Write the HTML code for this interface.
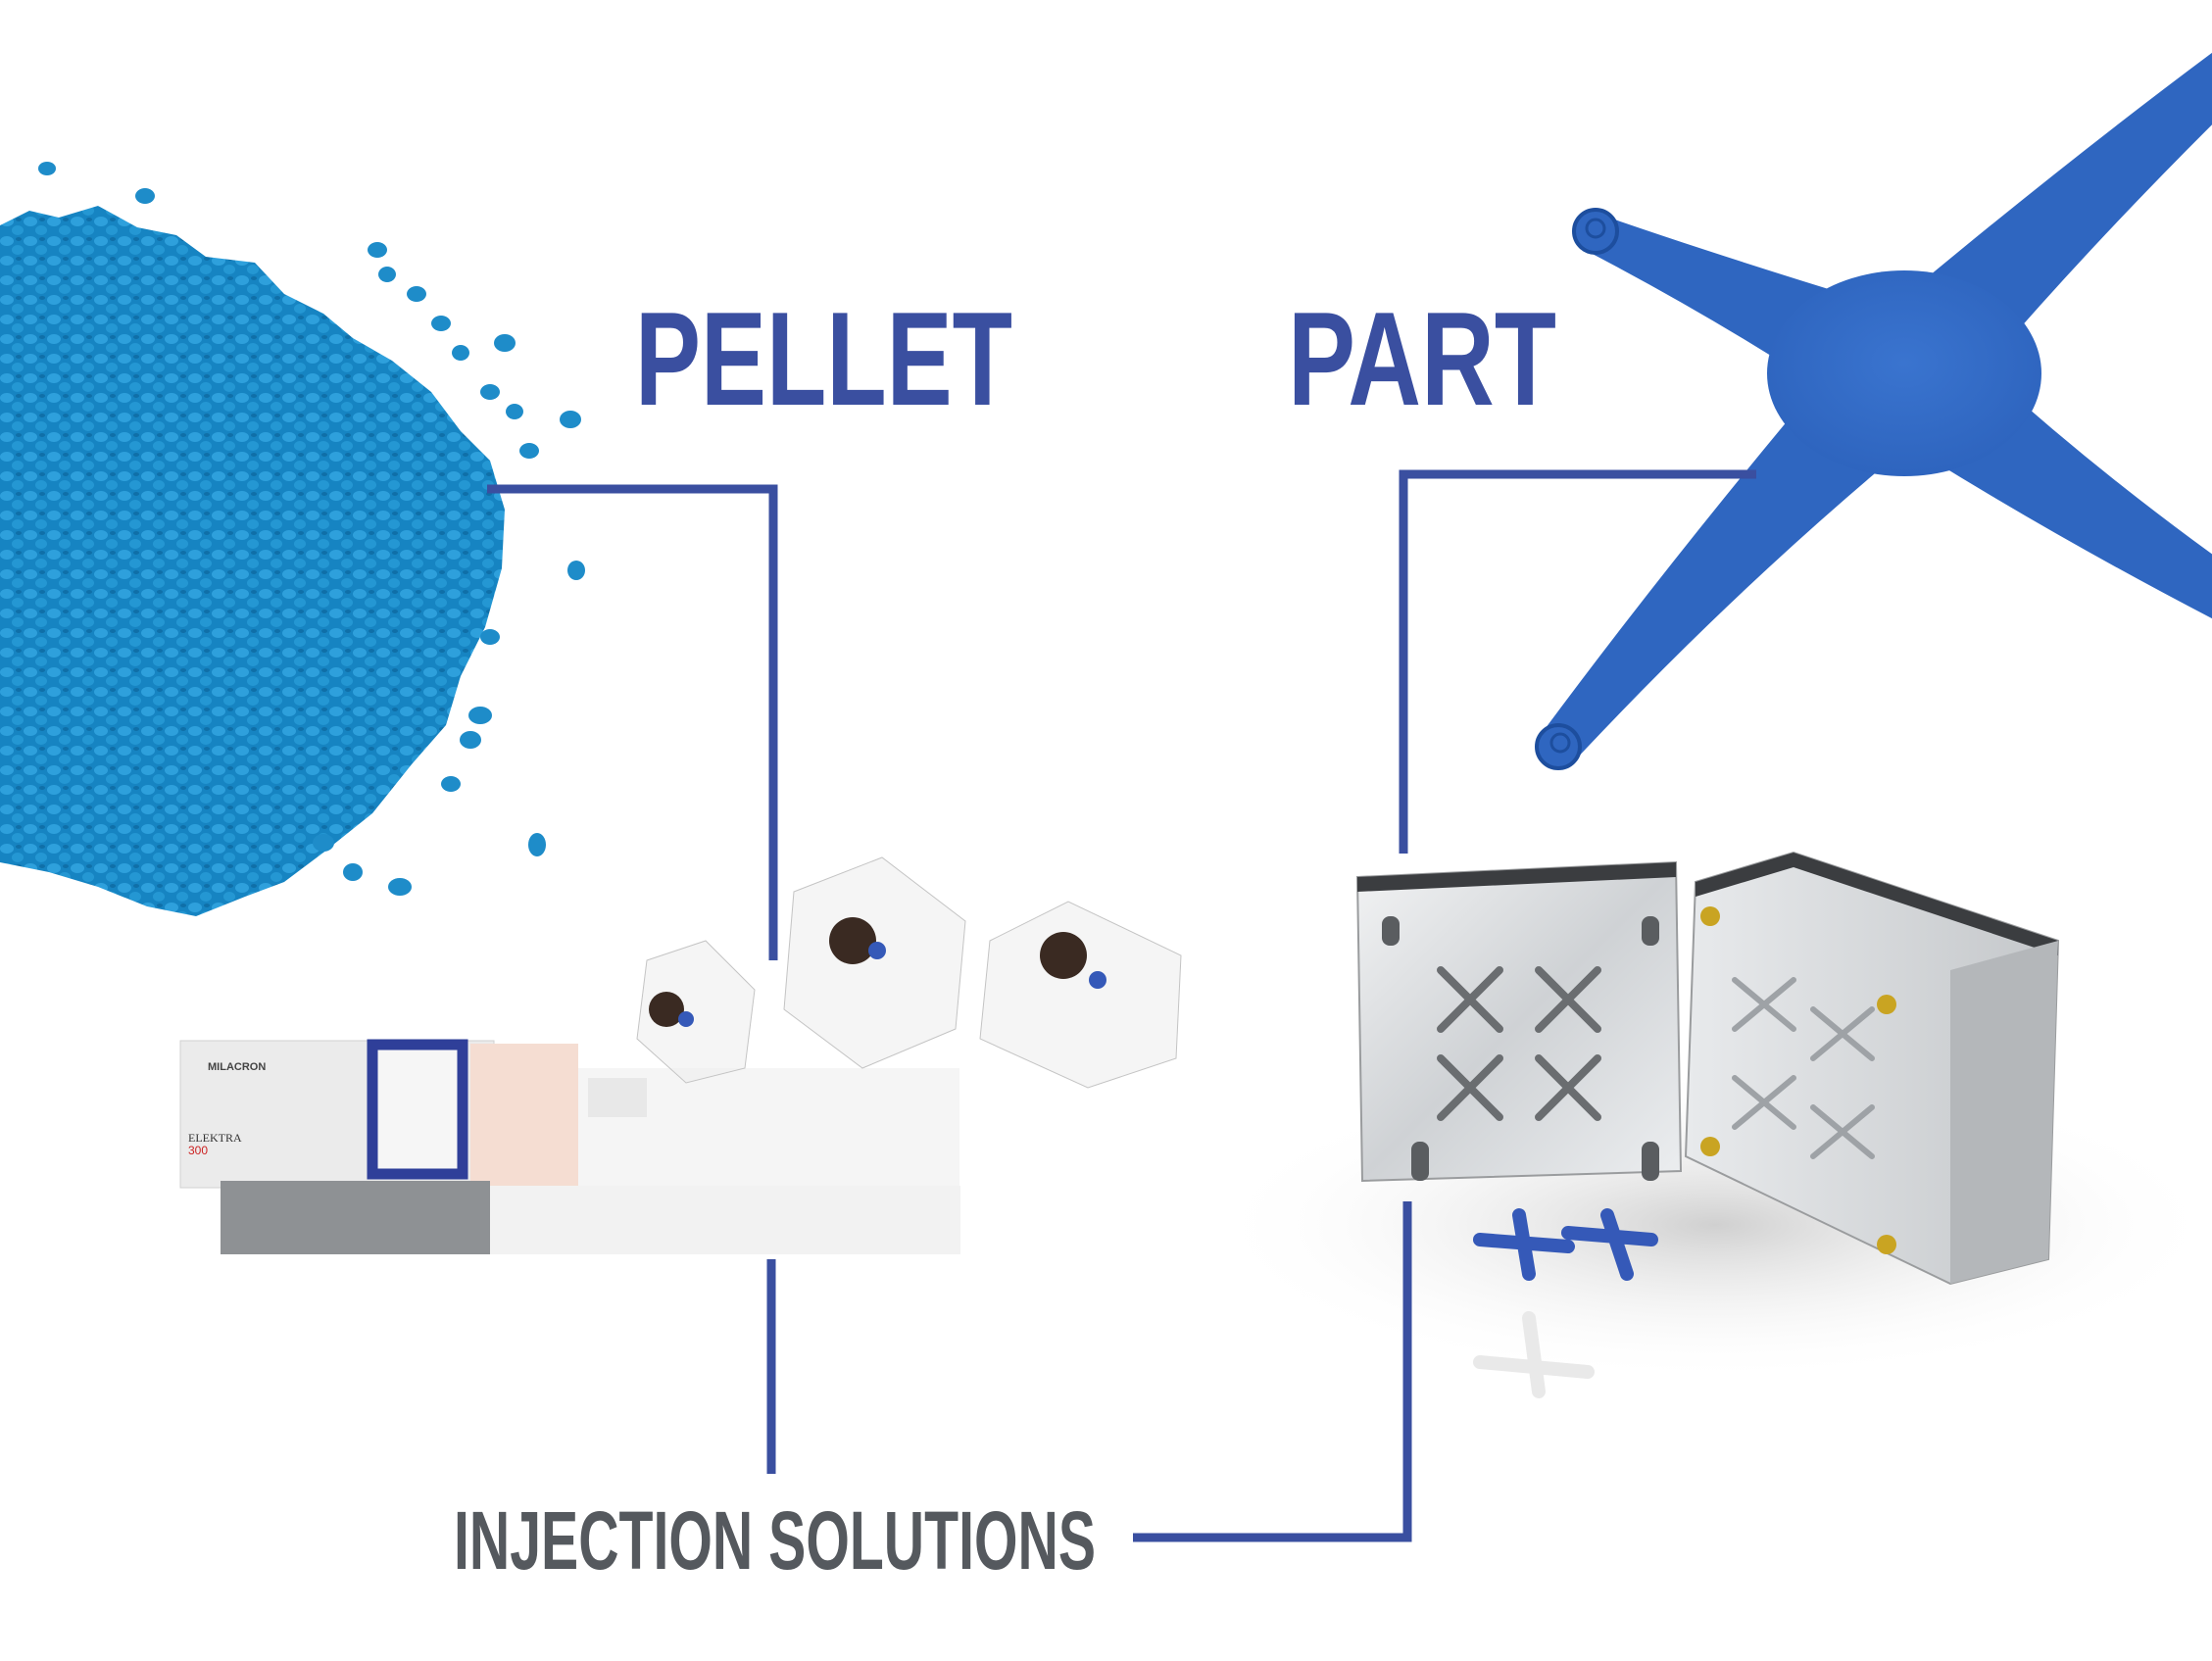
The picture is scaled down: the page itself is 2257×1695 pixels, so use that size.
<!DOCTYPE html>
<html><head><meta charset="utf-8"><style>
html,body{margin:0;padding:0;background:#fff;}
svg{display:block;}
</style></head><body>
<svg width="2257" height="1695" viewBox="0 0 2257 1695" xmlns="http://www.w3.org/2000/svg">
<rect width="2257" height="1695" fill="#fff"/>
<defs>
<pattern id="pel" width="24" height="20" patternUnits="userSpaceOnUse">
<rect width="24" height="20" fill="#1684c2"/>
<ellipse cx="7" cy="6" rx="7" ry="5" fill="#2ea0dc"/>
<ellipse cx="18" cy="15" rx="6" ry="5" fill="#2497d3"/>
<ellipse cx="19" cy="4" rx="3" ry="2" fill="#0f6fa8"/>
</pattern>
<radialGradient id="sh" cx="0.5" cy="0.5" r="0.5"><stop offset="0" stop-color="#d0d0d0"/><stop offset="1" stop-color="#fff" stop-opacity="0"/></radialGradient>
<linearGradient id="m1" x1="0" y1="0" x2="1" y2="1"><stop offset="0" stop-color="#f2f3f4"/><stop offset="0.5" stop-color="#cfd2d5"/><stop offset="1" stop-color="#eceef0"/></linearGradient>
<linearGradient id="m2" x1="0" y1="0" x2="1" y2="0"><stop offset="0" stop-color="#e8eaec"/><stop offset="1" stop-color="#c4c7ca"/></linearGradient>
<radialGradient id="xb" cx="0.5" cy="0.45" r="0.6"><stop offset="0" stop-color="#3a74cf"/><stop offset="1" stop-color="#2d63bd"/></radialGradient>
</defs>
<!-- pellet pile -->
<path d="M0 230 L30 215 L60 222 L100 210 L140 232 L180 240 L210 262 L260 268 L290 300 L330 320 L360 345 L400 368 L440 400 L470 440 L500 470 L515 520 L512 580 L495 640 L470 690 L455 740 L420 780 L380 830 L330 870 L290 900 L250 915 L200 935 L150 925 L100 905 L50 890 L0 880 Z" fill="url(#pel)"/>
<g fill="#1e8cc9">
<ellipse cx="48" cy="172" rx="9" ry="7"/><ellipse cx="148" cy="200" rx="10" ry="8"/><ellipse cx="385" cy="255" rx="10" ry="8"/>
<ellipse cx="425" cy="300" rx="10" ry="8"/><ellipse cx="515" cy="350" rx="11" ry="9"/><ellipse cx="582" cy="428" rx="11" ry="9"/>
<ellipse cx="540" cy="460" rx="10" ry="8"/><ellipse cx="588" cy="582" rx="9" ry="10"/><ellipse cx="490" cy="730" rx="12" ry="9"/>
<ellipse cx="548" cy="862" rx="9" ry="12"/><ellipse cx="408" cy="905" rx="12" ry="9"/><ellipse cx="480" cy="755" rx="11" ry="9"/>
<ellipse cx="450" cy="330" rx="10" ry="8"/><ellipse cx="500" cy="400" rx="10" ry="8"/><ellipse cx="330" cy="860" rx="11" ry="9"/>
<ellipse cx="395" cy="280" rx="9" ry="8"/><ellipse cx="470" cy="360" rx="9" ry="8"/><ellipse cx="525" cy="420" rx="9" ry="8"/>
<ellipse cx="500" cy="650" rx="10" ry="8"/><ellipse cx="460" cy="800" rx="10" ry="8"/><ellipse cx="360" cy="890" rx="10" ry="9"/>
</g>
<!-- part (X shape) -->
<g fill="#2f66c0">
<path d="M1968,326 Q1780,270 1633,219 L1617,255 Q1780,340 1918,436 Z"/>
<path d="M1902,337 Q2100,170 2273,42 L2307,78 Q2120,260 1984,425 Z"/>
<path d="M1899,340 Q1720,550 1574,747 L1606,777 Q1790,580 1987,422 Z"/>
<path d="M1977,332 Q2120,470 2304,599 L2276,641 Q2080,540 1909,430 Z"/>
</g>
<ellipse cx="1943" cy="381" rx="140" ry="105" fill="url(#xb)"/>
<circle cx="1628" cy="236" r="22" fill="#2f66c0" stroke="#1d4e9e" stroke-width="4"/>
<circle cx="1628" cy="233" r="9" fill="none" stroke="#1d4e9e" stroke-width="3"/>
<circle cx="1590" cy="762" r="22" fill="#2f66c0" stroke="#1d4e9e" stroke-width="4"/>
<circle cx="1592" cy="758" r="9" fill="none" stroke="#1d4e9e" stroke-width="3"/>
<!-- machine -->
<rect x="184" y="1062" width="320" height="150" fill="#ebebeb" stroke="#d0d0d0"/>
<rect x="504" y="1090" width="475" height="120" fill="#f5f5f5"/>
<rect x="380" y="1066" width="92" height="132" fill="#f6f6f6" stroke="#2f3f99" stroke-width="11"/>
<rect x="480" y="1065" width="110" height="150" fill="#f5ddd2"/>
<rect x="225" y="1205" width="275" height="75" fill="#8e9194"/>
<rect x="500" y="1210" width="480" height="70" fill="#f2f2f2"/>
<rect x="600" y="1100" width="60" height="40" fill="#e8e8e8"/>
<text x="212" y="1092" font-family="Liberation Sans,sans-serif" font-size="11" font-weight="bold" fill="#444">MILACRON</text>
<text x="192" y="1165" font-family="Liberation Serif,serif" font-size="12" fill="#333">ELEKTRA</text>
<text x="192" y="1178" font-family="Liberation Sans,sans-serif" font-size="12" fill="#c22">300</text>
<!-- cubes -->
<g fill="#eeeeee" fill-opacity="0.6" stroke="#c4c4c4">
<polygon points="660,980 720,960 770,1010 760,1090 700,1105 650,1060"/>
<polygon points="810,910 900,875 985,940 975,1050 880,1090 800,1030"/>
<polygon points="1010,960 1090,920 1205,975 1200,1080 1110,1110 1000,1060"/>
</g>
<g fill="#3a2a22"><circle cx="680" cy="1030" r="18"/><circle cx="870" cy="960" r="24"/><circle cx="1085" cy="975" r="24"/></g>
<g fill="#3559b8"><circle cx="700" cy="1040" r="8"/><circle cx="895" cy="970" r="9"/><circle cx="1120" cy="1000" r="9"/></g>
<!-- mold -->
<ellipse cx="1750" cy="1250" rx="520" ry="160" fill="url(#sh)"/>
<polygon points="1385,895 1710,880 1715,1195 1390,1205" fill="url(#m1)" stroke="#9a9c9e" stroke-width="2"/>
<polygon points="1385,895 1710,880 1710,895 1385,910" fill="#3b3d40"/>
<polygon points="1730,900 1830,870 2100,960 2090,1285 1990,1310 1720,1180" fill="url(#m2)" stroke="#9a9c9e" stroke-width="2"/>
<polygon points="1730,900 1830,870 2100,960 2100,975 1830,885 1730,915" fill="#3b3d40"/>
<polygon points="1990,990 2100,960 2090,1285 1990,1310" fill="#b4b7ba"/>
<g fill="#c9a422"><circle cx="1745" cy="935" r="10"/><circle cx="1925" cy="1025" r="10"/><circle cx="1925" cy="1270" r="10"/><circle cx="1745" cy="1170" r="10"/></g>
<g fill="#5a5d60"><rect x="1410" y="935" width="18" height="30" rx="8"/><rect x="1675" y="935" width="18" height="30" rx="8"/><rect x="1440" y="1165" width="18" height="40" rx="8"/><rect x="1675" y="1165" width="18" height="40" rx="8"/></g>
<g stroke="#6a6d70" stroke-width="8" stroke-linecap="round">
<path d="M1470 990 L1530 1050 M1530 990 L1470 1050 M1570 990 L1630 1050 M1630 990 L1570 1050 M1470 1080 L1530 1140 M1530 1080 L1470 1140 M1570 1080 L1630 1140 M1630 1080 L1570 1140"/>
</g>
<g stroke="#9ea2a6" stroke-width="6" stroke-linecap="round"><path d="M1770 1000 L1830 1050 M1830 1000 L1770 1050 M1850 1030 L1910 1080 M1910 1030 L1850 1080 M1770 1100 L1830 1150 M1830 1100 L1770 1150 M1850 1130 L1910 1180 M1910 1130 L1850 1180"/></g>
<g stroke="#3559b8" stroke-width="14" stroke-linecap="round"><path d="M1510 1265 L1600 1272 M1550 1240 L1560 1300 M1600 1258 L1685 1265 M1640 1240 L1660 1300"/></g>
<g stroke="#e9e9e9" stroke-width="14" stroke-linecap="round"><path d="M1510 1390 L1620 1400 M1560 1345 L1570 1420"/></g>
<!-- lines -->
<g stroke="#3a4fa0" stroke-width="9" fill="none">
<path d="M497 499 L789 499 L789 980"/>
<path d="M787 1285 L787 1504"/>
<path d="M1432 871 L1432 484 L1792 484"/>
<path d="M1436 1226 L1436 1569 L1156 1569"/>
</g>
<g font-family="'Liberation Sans Narrow','Liberation Sans',sans-serif" font-weight="bold">
<text x="648" y="413" font-size="136" fill="#3a4fa0" textLength="385" lengthAdjust="spacingAndGlyphs">PELLET</text>
<text x="1314" y="413" font-size="136" fill="#3a4fa0" textLength="274" lengthAdjust="spacingAndGlyphs">PART</text>
<text x="463" y="1601" font-size="84" fill="#55595e" textLength="655" lengthAdjust="spacingAndGlyphs">INJECTION SOLUTIONS</text>
</g>
</svg>
</body></html>
